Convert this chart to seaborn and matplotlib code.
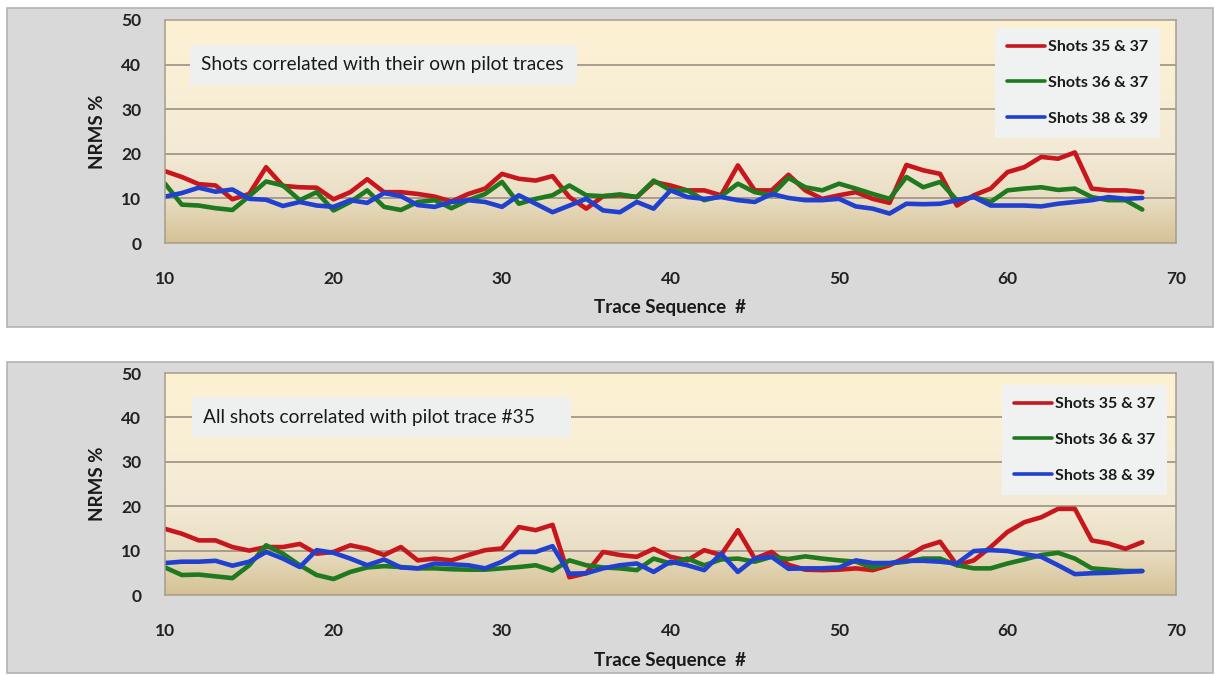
import numpy as np
import pandas as pd
import matplotlib
matplotlib.use("Agg")
import matplotlib.pyplot as plt
import seaborn as sns
from matplotlib.patches import Rectangle
from matplotlib.colors import LinearSegmentedColormap

# ---- data -----------------------------------------------------------------
trace = list(range(10, 69))
series_names = ["Shots 35 & 37", "Shots 36 & 37", "Shots 38 & 39"]
x_ticks = [10, 20, 30, 40, 50, 60, 70]
y_ticks = [0, 10, 20, 30, 40, 50]

# Panel 1: each shot correlated with its own pilot trace
own_35_37 = [16.1, 14.8, 13.2, 12.9, 9.8, 11.0, 17.0, 12.8, 12.5, 12.4,
             9.8, 11.4, 14.3, 11.4, 11.4, 11.0, 10.4, 9.3, 11.0, 12.2,
             15.5, 14.4, 14.0, 15.0, 10.3, 7.7, 10.5, 10.7, 10.3, 13.7,
             12.9, 11.8, 11.8, 10.7, 17.4, 11.8, 11.8, 15.3, 11.8, 9.9,
             10.7, 11.4, 9.9, 9.0, 17.5, 16.3, 15.5, 8.4, 10.7, 12.2,
             15.9, 17.0, 19.3, 18.9, 20.3, 12.2, 11.8, 11.8, 11.4]
own_36_37 = [13.3, 8.6, 8.4, 7.8, 7.4, 10.5, 13.8, 12.9, 9.6, 11.4,
             7.3, 9.2, 11.8, 8.1, 7.4, 9.2, 9.6, 7.8, 9.6, 11.0,
             13.7, 8.8, 9.9, 10.7, 12.9, 10.7, 10.5, 10.9, 10.3, 14.0,
             11.8, 11.8, 9.6, 10.5, 13.3, 11.4, 10.7, 14.6, 12.5, 11.8,
             13.3, 12.2, 11.0, 9.9, 14.8, 12.5, 13.7, 9.6, 10.3, 9.2,
             11.8, 12.2, 12.5, 11.9, 12.2, 10.3, 9.6, 9.6, 7.5]
own_38_39 = [10.4, 11.2, 12.4, 11.5, 12.0, 9.9, 9.7, 8.3, 9.2, 8.4,
             8.1, 9.6, 9.0, 11.2, 10.5, 8.5, 8.1, 9.2, 9.6, 9.2,
             8.1, 10.7, 8.8, 6.9, 8.4, 9.9, 7.3, 6.9, 9.2, 7.7,
             11.8, 10.3, 9.9, 10.3, 9.6, 9.2, 11.0, 10.1, 9.6, 9.6,
             9.9, 8.2, 7.7, 6.6, 8.8, 8.7, 8.8, 9.6, 10.3, 8.4,
             8.4, 8.4, 8.2, 8.8, 9.2, 9.6, 10.3, 9.9, 10.1]

# Panel 2: all shots correlated with pilot trace #35
p35_35_37 = [14.9, 13.8, 12.3, 12.3, 10.8, 10.0, 10.8, 10.8, 11.5, 9.3,
             9.7, 11.2, 10.4, 9.0, 10.8, 7.8, 8.2, 7.8, 9.0, 10.1,
             10.5, 15.3, 14.6, 15.8, 4.0, 4.9, 9.7, 9.0, 8.6, 10.4,
             8.6, 7.8, 10.1, 9.0, 14.6, 8.2, 9.7, 6.8, 5.7, 5.6,
             5.7, 6.0, 5.6, 6.7, 8.6, 10.8, 12.0, 6.7, 7.8, 10.8,
             14.2, 16.4, 17.5, 19.4, 19.4, 12.3, 11.6, 10.4, 11.9]
p35_36_37 = [6.2, 4.5, 4.6, 4.2, 3.8, 6.7, 11.2, 9.3, 6.7, 4.5,
             3.6, 5.2, 6.2, 6.5, 6.3, 6.0, 6.0, 5.8, 5.7, 5.7,
             6.0, 6.3, 6.7, 5.5, 7.8, 6.7, 6.2, 6.0, 5.6, 8.2,
             7.1, 8.2, 6.7, 8.0, 8.2, 7.5, 8.6, 8.1, 8.7, 8.2,
             7.8, 7.5, 6.2, 7.1, 7.5, 8.2, 8.2, 6.7, 6.0, 6.0,
             7.1, 8.0, 9.0, 9.5, 8.2, 6.0, 5.7, 5.4, 5.4]
p35_38_39 = [7.2, 7.5, 7.5, 7.7, 6.6, 7.5, 9.7, 8.2, 6.3, 10.1,
             9.5, 8.2, 6.7, 8.0, 6.2, 6.0, 7.1, 6.9, 6.7, 6.0,
             7.5, 9.7, 9.7, 11.0, 4.8, 4.9, 6.0, 6.7, 7.1, 5.2,
             7.5, 6.7, 5.6, 9.3, 5.2, 8.2, 8.6, 5.9, 6.0, 6.0,
             6.2, 7.8, 7.2, 7.2, 7.7, 7.7, 7.5, 7.1, 9.9, 10.1,
             9.9, 9.2, 8.6, 6.7, 4.7, 4.9, 5.0, 5.2, 5.4]

panels = [
    ("Shots correlated with their own pilot traces", [own_35_37, own_36_37, own_38_39]),
    ("All shots correlated with pilot trace #35", [p35_35_37, p35_36_37, p35_38_39]),
]

# ---- styling --------------------------------------------------------------
sns.set_theme(style="white")
plt.rcParams["font.family"] = ["Lato", "DejaVu Sans"]

line_colors = ["#c8161d", "#1f7a1f", "#2040d0"]
palette = dict(zip(series_names, line_colors))

bg_cmap = LinearSegmentedColormap.from_list(
    "tan_fade",
    [(0.0, "#d4c196"), (0.1, "#dfcfab"), (0.2, "#e9dec4"),
     (0.4, "#f3ead5"), (0.7, "#f9efd6"), (1.0, "#fdf1d2")])

W, H = 1215, 675
fig = plt.figure(figsize=(W / 100, H / 100), dpi=100, facecolor="white")

# pixel layout helpers (top-left origin)
def fig_rect(x0, y0, x1, y1):
    return [x0 / W, 1 - y1 / H, (x1 - x0) / W, (y1 - y0) / H]

frames = [(7, 8, 1213, 327), (7, 362, 1213, 673)]
axes_px = [(165, 20, 1176, 243), (165, 373, 1176, 595)]
title_boxes = [((190, 577), (201,)), ((192, 571), (203,))]
legend_anchor = [(995, 28), (1002, 385)]

for fr in frames:
    r = fig_rect(*fr)
    frame = Rectangle((r[0], r[1]), r[2], r[3], transform=fig.transFigure,
                      facecolor="#d9d9d9", edgecolor="#b3b3b3", lw=1.2, zorder=-10)
    fig.add_artist(frame)

for i, (caption, values) in enumerate(panels):
    x0, y0, x1, y1 = axes_px[i]
    ax = fig.add_axes(fig_rect(x0, y0, x1, y1))
    ax.set_zorder(5)
    ax.set_facecolor("none")

    grad = np.linspace(0, 1, 256).reshape(-1, 1)
    ax.imshow(grad, extent=[10, 70, 0, 50], origin="lower", aspect="auto",
              cmap=bg_cmap, zorder=0)
    for gy in y_ticks[1:-1]:
        ax.axhline(gy, color="#a3978a", lw=1.3, zorder=1)

    df = pd.DataFrame({
        "trace": trace * 3,
        "nrms": values[0] + values[1] + values[2],
        "series": np.repeat(series_names, len(trace)),
    })
    sns.lineplot(data=df, x="trace", y="nrms", hue="series", palette=palette,
                 estimator=None, linewidth=3.3, ax=ax, zorder=3,
                 solid_joinstyle="round", solid_capstyle="round")

    ax.set_xlim(10, 70)
    ax.set_ylim(0, 50)
    ax.set_xticks(x_ticks)
    ax.set_yticks(y_ticks)
    ax.tick_params(axis="both", length=0, labelsize=12.5, colors="#222222")
    ax.tick_params(axis="y", pad=17)
    ax.tick_params(axis="x", pad=20)
    for lab in ax.get_xticklabels() + ax.get_yticklabels():
        lab.set_fontweight("bold")

    for side in ["top", "bottom", "left", "right"]:
        ax.spines[side].set_color("#a79c8c")
        ax.spines[side].set_linewidth(1.1)
        ax.spines[side].set_zorder(4)

    ax.set_xlabel("Trace Sequence  #", fontsize=13.5, fontweight="bold", color="#1a1a1a")
    ax.set_ylabel("NRMS %", fontsize=13.5, fontweight="bold", color="#1a1a1a")
    ax.xaxis.set_label_coords(0.5, -0.25 if i == 0 else -0.257)
    ax.yaxis.set_label_coords(-0.058, 0.5)

    # caption box straddling the 40 gridline
    px_to_x = lambda px: 10 + (px - x0) * 60 / (x1 - x0)
    (bx0, bx1), (tx,) = title_boxes[i]
    box_h = 40 * 50 / (y1 - y0)
    ax.add_patch(Rectangle((px_to_x(bx0), 40 - box_h / 2), px_to_x(bx1) - px_to_x(bx0), box_h,
                           facecolor="#eef0f0", edgecolor="none", zorder=2))
    ax.text(px_to_x(tx), 40, caption, ha="left", va="center", fontsize=13.8,
            color="#1a1a1a", zorder=5)

    handles, labels = ax.get_legend_handles_labels()
    lx, ly = legend_anchor[i]
    leg = ax.legend(handles, labels, loc="upper left",
                    bbox_to_anchor=((lx - x0) / (x1 - x0), (y1 - ly) / (y1 - y0)),
                    borderaxespad=0, frameon=True, fancybox=False, framealpha=1,
                    facecolor="#f0f1f1", edgecolor="none",
                    prop={"size": 11.5, "weight": "bold"},
                    handlelength=2.4, handletextpad=0.15, labelspacing=1.35,
                    borderpad=0.75)
    for h in leg.get_lines():
        h.set_linewidth(2.6)
    for t in leg.get_texts():
        t.set_color("#1a1a1a")
    leg.set_zorder(6)

fig.savefig("out.png", dpi=100)
